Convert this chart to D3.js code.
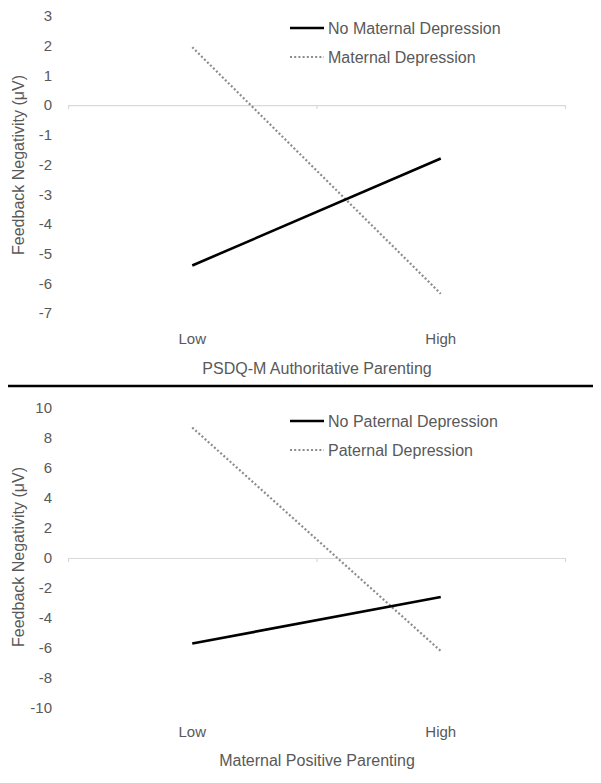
<!doctype html>
<html lang="en">
<head>
<meta charset="utf-8">
<title>Feedback negativity</title>
<style>
  body { margin: 0; background: #fff; }
  text { font-family: "Liberation Sans", Arial, sans-serif; fill: #595959; }
</style>
</head>
<body>
<script src="https://cdnjs.cloudflare.com/ajax/libs/d3/7.8.5/d3.min.js"></script>
<script>
// data
var categories = ["Low", "High"];

var topTicks = [3, 2, 1, 0, -1, -2, -3, -4, -5, -6, -7];
var topSeriesNames = ["No Maternal Depression", "Maternal Depression"];
var topNoDep = [-5.4, -1.8];
var topDep = [1.95, -6.35];

var botTicks = [10, 8, 6, 4, 2, 0, -2, -4, -6, -8, -10];
var botSeriesNames = ["No Paternal Depression", "Paternal Depression"];
var botNoDep = [-5.7, -2.6];
var botDep = [8.7, -6.2];

var w = 601, h = 783;

var svg = d3.select("body").append("svg")
    .attr("width", w)
    .attr("height", h);

function styleText(sel, size) {
    sel.style("font-size", size + "px")
        .style("fill", "#595959")
        .style("font-family", "Liberation Sans, Arial, sans-serif");
}

function drawPanel(opt) {
    var g = svg.append("g");

    var x = d3.scaleBand().domain(categories).range([68, 565]);
    var xb = d3.scaleLinear().domain([0, categories.length]).range([68, 565]);
    var y = d3.scaleLinear()
        .domain([d3.min(opt.ticks), d3.max(opt.ticks)])
        .range([opt.bottom, opt.top]);

    // y tick labels (plain hyphen for negatives)
    var ya = g.append("g")
        .attr("transform", "translate(54,0)")
        .call(d3.axisLeft(y).tickValues(opt.ticks).tickSize(0).tickPadding(2)
            .tickFormat(function(d) { return String(d); }));
    ya.select(".domain").remove();
    styleText(ya.selectAll("text"), 15);

    // zero line
    var za = g.append("g")
        .attr("transform", "translate(0," + y(0) + ")")
        .call(d3.axisBottom(xb).tickValues(d3.range(categories.length + 1))
            .tickFormat("").tickSize(4).tickSizeOuter(0));
    za.select(".domain").attr("stroke", "#d9d9d9").attr("stroke-width", 1.2);
    za.selectAll(".tick line").attr("stroke", "#d9d9d9").attr("stroke-width", 1.2);

    // category labels
    var ca = g.append("g")
        .attr("transform", "translate(0," + opt.catY + ")")
        .call(d3.axisBottom(x).tickSize(0).tickPadding(0));
    ca.select(".domain").remove();
    styleText(ca.selectAll("text"), 15);

    // x title
    g.append("text")
        .attr("x", 317)
        .attr("y", opt.titleY)
        .attr("text-anchor", "middle")
        .style("font-size", "16px")
        .text(opt.xTitle);

    // y title
    g.append("text")
        .attr("transform", "translate(24," + opt.yTitleMid + ") rotate(-90)")
        .attr("text-anchor", "middle")
        .style("font-size", "16px")
        .text("Feedback Negativity (\u03bcV)");

    var line = d3.line()
        .x(function(d, i) { return x(categories[i]) + x.bandwidth() / 2; })
        .y(function(d) { return y(d); });

    g.append("path")
        .datum(opt.dep)
        .attr("d", line)
        .attr("fill", "none")
        .attr("stroke", "#8c8c8c")
        .attr("stroke-width", 2.2)
        .attr("stroke-dasharray", "2,2.2");

    g.append("path")
        .datum(opt.noDep)
        .attr("d", line)
        .attr("fill", "none")
        .attr("stroke", "#000")
        .attr("stroke-width", 2.6);

    // legend
    var styles = [
        { stroke: "#000", width: 2.6, dash: null },
        { stroke: "#8c8c8c", width: 2.2, dash: "2,2.2" }
    ];
    opt.names.forEach(function(name, i) {
        var ly = opt.legendY + i * 29;
        g.append("line")
            .attr("x1", 290).attr("x2", 324)
            .attr("y1", ly).attr("y2", ly)
            .attr("stroke", styles[i].stroke)
            .attr("stroke-width", styles[i].width)
            .attr("stroke-dasharray", styles[i].dash);
        g.append("text")
            .attr("x", 328)
            .attr("y", ly + 6)
            .style("font-size", "16px")
            .text(name);
    });
}

drawPanel({
    ticks: topTicks, top: 16, bottom: 313,
    noDep: topNoDep, dep: topDep, names: topSeriesNames,
    catY: 333, titleY: 374, yTitleMid: 165, legendY: 28,
    xTitle: "PSDQ-M Authoritative Parenting"
});

// separator
svg.append("line")
    .attr("x1", 8).attr("x2", 593)
    .attr("y1", 386).attr("y2", 386)
    .attr("stroke", "#000")
    .attr("stroke-width", 2.5);

drawPanel({
    ticks: botTicks, top: 408, bottom: 708,
    noDep: botNoDep, dep: botDep, names: botSeriesNames,
    catY: 726, titleY: 766, yTitleMid: 557, legendY: 421,
    xTitle: "Maternal Positive Parenting"
});
</script>
</body>
</html>
